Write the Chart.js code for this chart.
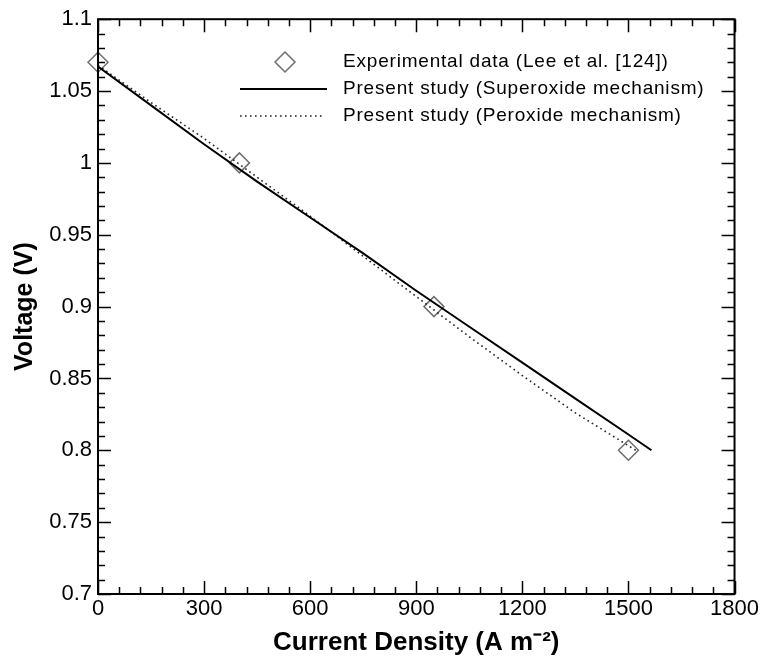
<!DOCTYPE html>
<html>
<head>
<meta charset="utf-8">
<script src="https://cdn.jsdelivr.net/npm/chart.js@4.4.1/dist/chart.umd.min.js"></script>
<style>
  html, body { margin: 0; padding: 0; background: #fff; }
  #wrap { width: 761px; height: 667px; }
</style>
</head>
<body>
<div id="wrap"><canvas id="voltageChart"></canvas></div>
<script>
// experimental points (Lee et al.)
var expCurrent = [0, 400, 950, 1500];
var expVoltage = [1.07, 1.0, 0.9, 0.8];

// model curve, superoxide mechanism
var superCurrent = [0, 150, 300, 450, 600, 750, 900, 1050, 1200, 1350, 1500, 1565];
var superVoltage = [1.067, 1.040, 1.013, 0.987, 0.962, 0.937, 0.911, 0.886, 0.861, 0.836, 0.811, 0.800];

// model curve, peroxide mechanism
var peroxCurrent = [0, 150, 300, 450, 600, 750, 900, 1050, 1200, 1350, 1521];
var peroxVoltage = [1.068, 1.042, 1.017, 0.990, 0.963, 0.935, 0.907, 0.879, 0.852, 0.826, 0.800];

var legendLabels = ['Experimental data (Lee et al. [124])', 'Present study (Superoxide mechanism)', 'Present study (Peroxide mechanism)'];

var fontFamily = "'Liberation Sans', Arial, sans-serif";

function toPoints(xs, ys) {
  return xs.map(function (x, i) { return { x: x, y: ys[i] }; });
}

// inward ticks on all four sides plus the box
var frameTicks = {
  id: 'frameTicks',
  afterDraw: function (chart) {
    var ctx = chart.ctx;
    var a = chart.chartArea;
    var xs = chart.scales.x;
    var ys = chart.scales.y;
    ctx.save();
    ctx.strokeStyle = '#000';
    ctx.lineWidth = 1.5;
    ctx.beginPath();
    for (var i = 0; i <= 30; i++) {
      var px = Math.round(xs.getPixelForValue(i * 60)) + 0.5;
      var len = i % 5 === 0 ? 13 : 7;
      ctx.moveTo(px, a.bottom); ctx.lineTo(px, a.bottom - len);
      ctx.moveTo(px, a.top); ctx.lineTo(px, a.top + len);
    }
    for (var j = 0; j <= 40; j++) {
      var py = Math.round(ys.getPixelForValue(0.7 + j * 0.01)) + 0.5;
      var ylen = j % 5 === 0 ? 13 : 7;
      ctx.moveTo(a.left, py); ctx.lineTo(a.left + ylen, py);
      ctx.moveTo(a.right, py); ctx.lineTo(a.right - ylen, py);
    }
    ctx.stroke();
    ctx.lineWidth = 2;
    ctx.strokeRect(a.left, a.top, a.right - a.left, a.bottom - a.top);
    ctx.restore();
  }
};

// legend inside the plot, upper right
var insideLegend = {
  id: 'insideLegend',
  afterDraw: function (chart) {
    var ctx = chart.ctx;
    var rows = [62, 89, 116];
    ctx.save();
    ctx.font = '19px ' + fontFamily;
    ctx.fillStyle = '#000';
    ctx.textBaseline = 'middle';
    ctx.letterSpacing = '0.8px';
    legendLabels.forEach(function (t, i) {
      ctx.fillText(t, 343, rows[i]);
    });
    ctx.letterSpacing = '0px';
    // diamond
    ctx.strokeStyle = '#6e6e6e';
    ctx.lineWidth = 1.5;
    ctx.beginPath();
    ctx.moveTo(275, rows[0]); ctx.lineTo(285, rows[0] - 10);
    ctx.lineTo(295, rows[0]); ctx.lineTo(285, rows[0] + 10);
    ctx.closePath();
    ctx.stroke();
    // solid
    ctx.strokeStyle = '#000';
    ctx.lineWidth = 2;
    ctx.beginPath();
    ctx.moveTo(240, rows[1]); ctx.lineTo(327, rows[1]);
    ctx.stroke();
    // dotted
    ctx.strokeStyle = '#222';
    ctx.lineWidth = 1.6;
    ctx.setLineDash([1.6, 3.4]);
    ctx.beginPath();
    ctx.moveTo(240, rows[2]); ctx.lineTo(325, rows[2]);
    ctx.stroke();
    ctx.restore();
  }
};

var ctxVoltage = document.getElementById('voltageChart').getContext('2d');

var voltageChart = new Chart(ctxVoltage, {
  type: 'scatter',
  data: {
    datasets: [{
      label: legendLabels[0],
      data: toPoints(expCurrent, expVoltage),
      showLine: false,
      pointStyle: 'rectRot',
      pointRadius: 10,
      pointBorderWidth: 1.5,
      pointBorderColor: '#6e6e6e',
      pointBackgroundColor: 'rgba(0,0,0,0)',
      clip: false,
      order: 3
    }, {
      label: legendLabels[1],
      data: toPoints(superCurrent, superVoltage),
      showLine: true,
      borderColor: '#000',
      borderWidth: 2,
      pointRadius: 0,
      tension: 0,
      order: 1
    }, {
      label: legendLabels[2],
      data: toPoints(peroxCurrent, peroxVoltage),
      showLine: true,
      borderColor: '#222',
      borderWidth: 1.6,
      borderDash: [1.6, 3.4],
      pointRadius: 0,
      tension: 0,
      order: 2
    }]
  },
  options: {
    responsive: true,
    maintainAspectRatio: false,
    animation: false,
    layout: { padding: { top: 15, right: 26, left: 0, bottom: 0 } },
    plugins: {
      legend: { display: false },
      tooltip: { enabled: false }
    },
    scales: {
      x: {
        type: 'linear',
        min: 0,
        max: 1800,
        grid: { display: false, drawTicks: false },
        border: { display: false },
        ticks: {
          stepSize: 300,
          padding: 2,
          color: '#000',
          font: { family: fontFamily, size: 22 },
          maxRotation: 0,
          callback: function (v) { return String(v); }
        },
        title: {
          display: true,
          text: 'Current Density (A m\u207B\u00B2)',
          color: '#000',
          font: { family: fontFamily, size: 26, weight: 'bold' },
          padding: { top: 0, bottom: 9 }
        },
        afterFit: function (s) { s.height = 73; }
      },
      y: {
        min: 0.7,
        max: 1.1,
        grid: { display: false, drawTicks: false },
        border: { display: false },
        ticks: {
          stepSize: 0.05,
          padding: 6,
          color: '#000',
          font: { family: fontFamily, size: 22 },
          callback: function (v) { return Number(v.toFixed(2)).toString(); }
        },
        title: {
          display: true,
          text: 'Voltage (V)',
          color: '#000',
          font: { family: fontFamily, size: 25, weight: 'bold' },
          padding: { top: 10, bottom: 0 }
        },
        afterFit: function (s) { s.width = 98; }
      }
    }
  },
  plugins: [frameTicks, insideLegend]
});
</script>
</body>
</html>
